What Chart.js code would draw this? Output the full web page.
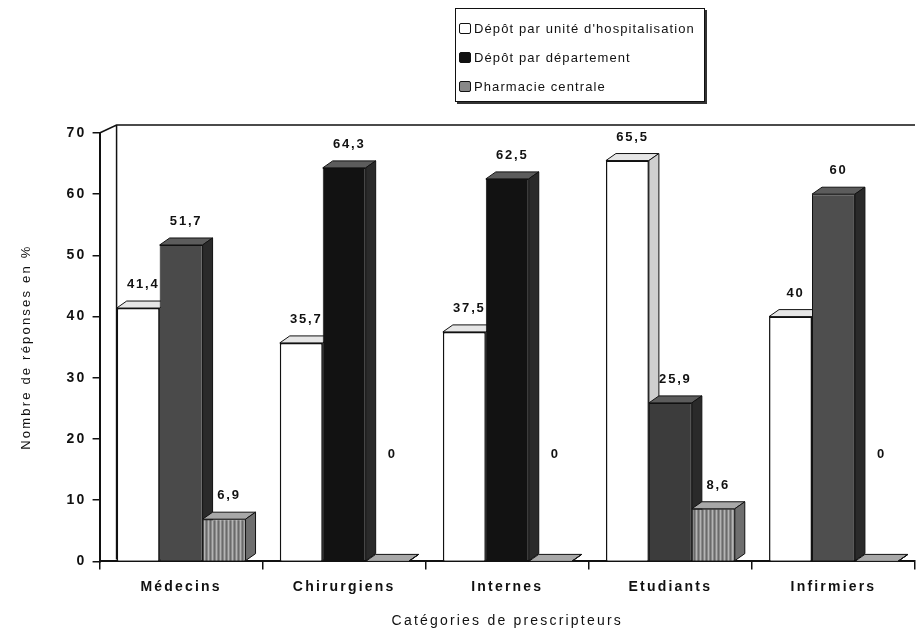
<!DOCTYPE html>
<html>
<head>
<meta charset="utf-8">
<script src="https://cdn.jsdelivr.net/npm/chart.js@4.4.1/dist/chart.umd.min.js"></script>
<style>
  html, body { margin: 0; padding: 0; background: #fff; }
  #wrap { position: relative; width: 920px; height: 632px; }
  #legend {
    position: absolute; left: 455px; top: 8px; width: 250px; height: 94px;
    border: 1.5px solid #111; box-shadow: 2px 2px 0 #333; background: #fff;
    font-family: "Liberation Sans", Arial, sans-serif; font-size: 13px;
    letter-spacing: 1.1px; color: #111; box-sizing: border-box; padding-top: 5px;
  }
  #legend div { height: 29px; line-height: 29px; padding-left: 3px; white-space: nowrap; }
  #legend span.box {
    display: inline-block; width: 10px; height: 9px; margin-right: 3px;
    border: 1.5px solid #111; vertical-align: -1px; border-radius: 2px;
  }
</style>
</head>
<body>
<div id="wrap">
  <canvas id="c" width="920" height="632"></canvas>
  <div id="legend"></div>
</div>
<script>
/* data */
const categories = ['Médecins', 'Chirurgiens', 'Internes', 'Etudiants', 'Infirmiers'];
const seriesNames = ["Dépôt par unité d'hospitalisation", 'Dépôt par département', 'Pharmacie centrale'];
const uniteValues       = [41.4, 35.7, 37.5, 65.5, 40];
const departementValues = [51.7, 64.3, 62.5, 25.9, 60];
const pharmacieValues   = [6.9, 0, 0, 8.6, 0];
const yMin = 0, yMax = 70, yStep = 10;
const yTitle = 'Nombre de réponses en %';
const xTitle = 'Catégories de prescripteurs';

const FONT = '"Liberation Sans", Arial, sans-serif';
const DX = 10, DY = 7;   /* 3D depth offset */

/* vertical stripe pattern for the hatched series */
function stripes() {
  const p = document.createElement('canvas');
  p.width = 4; p.height = 4;
  const g = p.getContext('2d');
  g.fillStyle = '#8a8a8a'; g.fillRect(0, 0, 4, 4);
  g.fillStyle = '#b4b4b4'; g.fillRect(0, 0, 1, 4);
  g.fillStyle = '#6a6a6a'; g.fillRect(2, 0, 1, 4);
  return g.createPattern(p, 'repeat');
}

const deptColors = ['#4a4a4a', '#121212', '#121212', '#3c3c3c', '#4e4e4e'];
const faces = [
  { top: '#e6e6e6', side: '#cfcfcf' },
  { top: '#5c5c5c', side: '#2a2a2a' },
  { top: '#a8a8a8', side: '#6e6e6e' },
];

/* legend built from the series names */
const legendMarks = ['#fff', '#111', '#888'];
document.getElementById('legend').innerHTML = seriesNames
  .map((n, i) => `<div><span class="box" style="background:${legendMarks[i]}"></span>${n}</div>`)
  .join('');

const ctx = document.getElementById('c').getContext('2d');

/* wider letter spacing, like the scanned print */
const spacing = {
  id: 'spacing',
  beforeLayout(chart) { chart.ctx.letterSpacing = '2.2px'; },
  beforeDraw(chart) { chart.ctx.letterSpacing = '2.2px'; },
};

/* draws the bars left to right, each with its top and right side faces */
const bars3d = {
  id: 'bars3d',
  beforeDatasetsDraw(chart) {
    const { ctx, chartArea: a } = chart;
    ctx.save();
    ctx.strokeStyle = '#111';
    ctx.lineWidth = 1.5;
    ctx.beginPath();
    ctx.moveTo(a.left, a.top);
    ctx.lineTo(a.left + 17, a.top - 8);
    ctx.lineTo(a.right, a.top - 8);
    ctx.moveTo(a.left + 17, a.top - 8);
    ctx.lineTo(a.left + 17, a.bottom - 2);
    ctx.stroke();

    chart.data.datasets.forEach((ds, di) => {
      const f = faces[di];
      chart.getDatasetMeta(di).data.forEach(bar => {
        bar.draw(ctx, a);
        const { x, y, base, width } = bar.getProps(['x', 'y', 'base', 'width'], true);
        const l = x - width / 2, r = x + width / 2;
        ctx.strokeStyle = '#111';
        ctx.lineWidth = 1;
        ctx.beginPath();
        ctx.moveTo(l, y); ctx.lineTo(l + DX, y - DY);
        ctx.lineTo(r + DX, y - DY); ctx.lineTo(r, y); ctx.closePath();
        ctx.fillStyle = f.top; ctx.fill(); ctx.stroke();
        ctx.beginPath();
        ctx.moveTo(r, y); ctx.lineTo(r + DX, y - DY);
        ctx.lineTo(r + DX, base - DY); ctx.lineTo(r, base); ctx.closePath();
        ctx.fillStyle = f.side; ctx.fill(); ctx.stroke();
      });
    });
    ctx.restore();
    return false;
  },
  afterDraw(chart) {
    const { ctx } = chart;
    ctx.save();
    ctx.font = 'bold 13px ' + FONT;
    ctx.letterSpacing = '1.8px';
    ctx.fillStyle = '#111';
    ctx.textAlign = 'center';
    ctx.textBaseline = 'bottom';
    chart.data.datasets.forEach((ds, di) => {
      chart.getDatasetMeta(di).data.forEach((bar, i) => {
        const txt = String(ds.data[i]).replace('.', ',');
        /* zero labels float well above the floor in the original */
        const ty = ds.data[i] === 0 ? bar.base - 100 : bar.y - DY - 10;
        ctx.fillText(txt, bar.x + DX / 2, ty);
      });
    });
    ctx.restore();
  },
};

new Chart(ctx, {
  type: 'bar',
  data: {
    labels: categories,
    datasets: [
      { label: seriesNames[0], data: uniteValues, backgroundColor: '#fff',
        borderColor: '#111', borderWidth: 1.5 },
      { label: seriesNames[1], data: departementValues, backgroundColor: deptColors,
        borderColor: '#111', borderWidth: 1 },
      { label: seriesNames[2], data: pharmacieValues, backgroundColor: stripes(),
        borderColor: '#222', borderWidth: 1 },
    ],
  },
  options: {
    responsive: false,
    animation: false,
    categoryPercentage: 0.79,
    barPercentage: 1.0,
    layout: { padding: { top: 133, right: 5, left: 15, bottom: 0 } },
    scales: {
      x: {
        grid: { display: true, drawOnChartArea: false, offset: true, tickLength: 8, color: '#111', lineWidth: 1.5 },
        border: { color: '#111', width: 2 },
        ticks: { color: '#111', font: { family: FONT, size: 14, weight: 'bold' }, padding: 9 },
        title: { display: true, text: xTitle, color: '#111', font: { family: FONT, size: 14 }, padding: { top: 9, bottom: 2 } },
      },
      y: {
        min: yMin, max: yMax,
        ticks: { stepSize: yStep, color: '#111', font: { family: FONT, size: 14, weight: 'bold' }, padding: 6 },
        grid: { display: true, drawOnChartArea: false, tickLength: 7, color: '#111', lineWidth: 1.5 },
        border: { color: '#111', width: 2 },
        title: { display: true, text: yTitle, color: '#111', font: { family: FONT, size: 13 }, padding: { bottom: 26 } },
      },
    },
    plugins: {
      legend: { display: false },
      tooltip: { enabled: false },
    },
  },
  plugins: [spacing, bars3d],
});
</script>
</body>
</html>
